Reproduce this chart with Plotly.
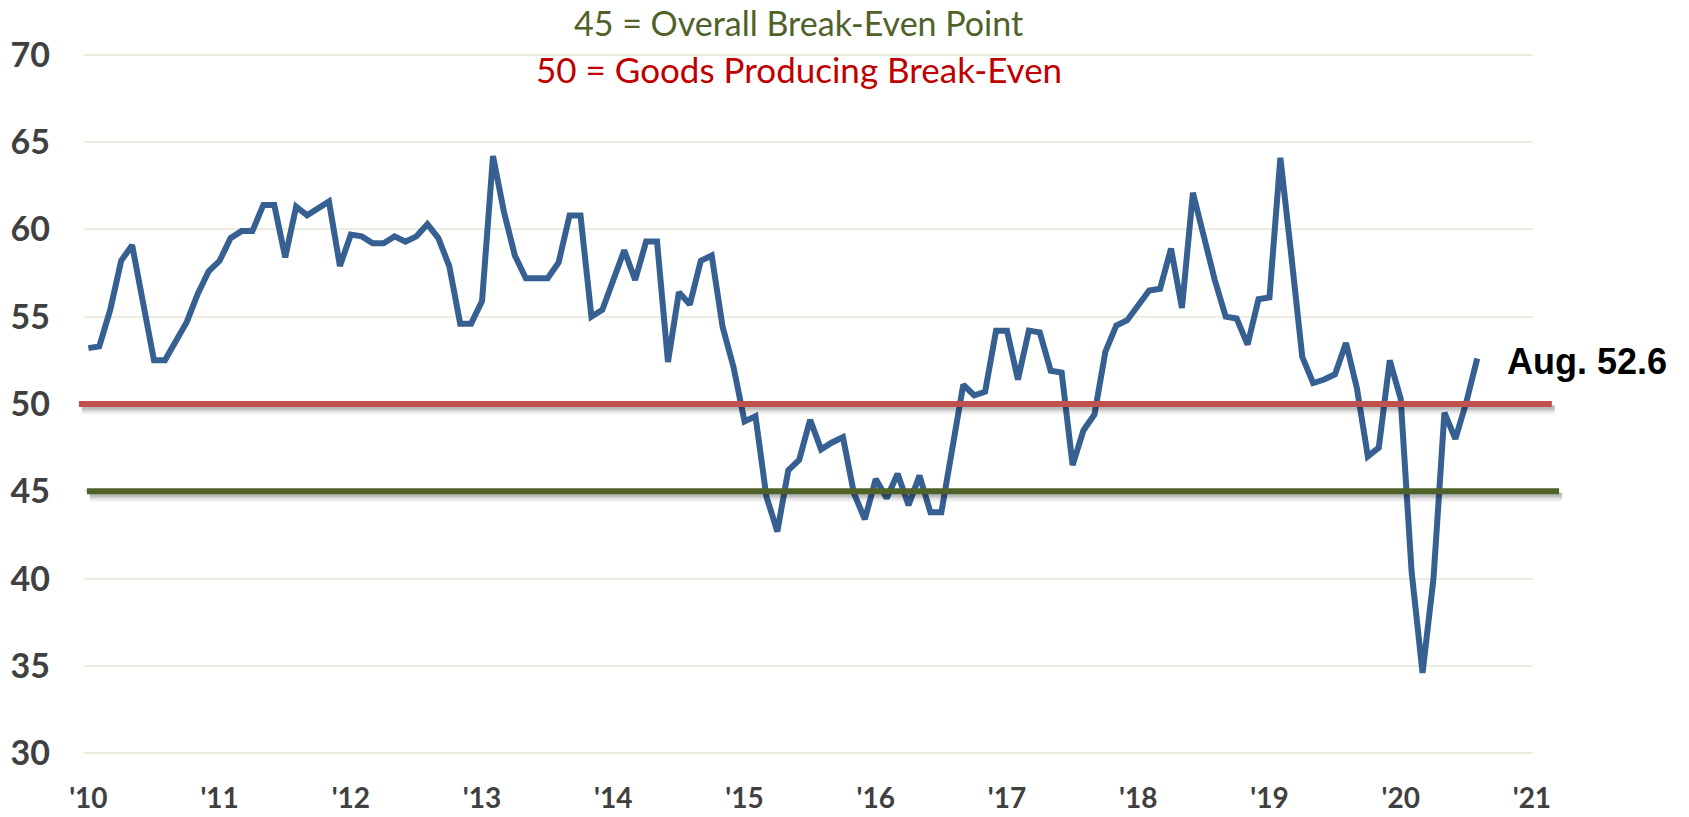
import plotly.graph_objects as go

# ---- data ----
year_labels = ["'10", "'11", "'12", "'13", "'14", "'15", "'16", "'17", "'18", "'19", "'20", "'21"]
index_values = [
    53.2, 53.3, 55.4, 58.2, 59.1, 55.7, 52.5, 52.5, 53.6, 54.7, 56.3, 57.6,   # 2010
    58.2, 59.5, 59.9, 59.9, 61.4, 61.4, 58.4, 61.3, 60.8, 61.2, 61.6, 57.9,   # 2011
    59.7, 59.6, 59.2, 59.2, 59.6, 59.3, 59.6, 60.3, 59.5, 57.9, 54.6, 54.6,   # 2012
    55.9, 64.2, 61.0, 58.5, 57.2, 57.2, 57.2, 58.1, 60.8, 60.8, 55.0, 55.4,   # 2013
    57.1, 58.8, 57.1, 59.3, 59.3, 52.4, 56.4, 55.7, 58.2, 58.5, 54.4, 52.1,   # 2014
    49.0, 49.3, 44.7, 42.7, 46.2, 46.8, 49.1, 47.4, 47.8, 48.1, 44.9, 43.4,   # 2015
    45.7, 44.6, 46.0, 44.2, 45.9, 43.8, 43.8, 47.3, 51.1, 50.5, 50.7, 54.2,   # 2016
    54.2, 51.4, 54.2, 54.1, 51.9, 51.8, 46.5, 48.5, 49.4, 53.0, 54.5, 54.8,   # 2017
    55.6, 56.5, 56.6, 58.9, 55.5, 62.1, 59.6, 57.1, 55.0, 54.9, 53.4, 56.0,   # 2018
    56.1, 64.1, 58.5, 52.7, 51.2, 51.4, 51.7, 53.5, 50.9, 47.0, 47.5, 52.5,   # 2019
    50.3, 40.4, 34.6, 40.0, 49.5, 48.0, 50.1, 52.6,                           # 2020
]
month_index = list(range(len(index_values)))
year_ticks = [12 * i for i in range(len(year_labels))]
y_ticks = [30, 35, 40, 45, 50, 55, 60, 65, 70]

overall_break_even = 45
goods_break_even = 50
last_label = "Aug."

BLUE = "#376092"
RED_LINE = "#C0504D"
GREEN_LINE = "#4F6228"
GRID = "#EEECE1"
TICK = "#404040"

fig = go.Figure()
fig.add_trace(go.Scatter(
    x=month_index, y=index_values, mode="lines",
    line=dict(color=BLUE, width=6), hoverinfo="skip", showlegend=False,
))

shapes = []
# reference lines with soft shadow
for val, color, x0, x1 in [(goods_break_even, RED_LINE, -0.0035, 1.013),
                           (overall_break_even, GREEN_LINE, 0.002, 1.018)]:
    for off, w, a in [(0.32, 9, 0.07), (0.26, 6, 0.10), (0.2, 4, 0.12)]:
        shapes.append(dict(type="line", xref="paper", yref="y", x0=x0 + 0.002, x1=x1 + 0.002,
                           y0=val - off, y1=val - off,
                           line=dict(color=f"rgba(0,0,0,{a})", width=w), layer="above"))
    shapes.append(dict(type="line", xref="paper", yref="y", x0=x0, x1=x1, y0=val, y1=val,
                       line=dict(color=color, width=6), layer="above"))

annotations = [
    dict(text=f"{overall_break_even} = Overall Break-Even Point", xref="paper", yref="paper",
         x=0.4934, y=1.043, xanchor="center", yanchor="middle", showarrow=False,
         font=dict(family="Lato", size=34, color="#4F6228")),
    dict(text=f"{goods_break_even} = Goods Producing Break-Even", xref="paper", yref="paper",
         x=0.4934, y=0.977, xanchor="center", yanchor="middle", showarrow=False,
         font=dict(family="Lato", size=35, color="#C00000")),
    dict(text=f"{last_label} {index_values[-1]}", xref="x", yref="y",
         x=month_index[-1], y=index_values[-1], xanchor="left", yanchor="middle",
         xshift=28, yshift=-3, showarrow=False,
         font=dict(family="Liberation Sans", size=36, color="#000000", weight="bold")),
]

fig.update_layout(
    width=1689, height=817,
    margin=dict(l=84, r=156, t=53, b=62),
    paper_bgcolor="white", plot_bgcolor="white",
    showlegend=False,
    shapes=shapes, annotations=annotations,
    xaxis=dict(range=[-0.4, 132.1], tickvals=year_ticks, ticktext=year_labels,
               showgrid=False, zeroline=False, showline=False, ticks="",
               tickfont=dict(family="Lato", size=28, color=TICK, weight="bold"),
               ticklabelstandoff=24, automargin=False),
    yaxis=dict(range=[29.9, 70.1], tickvals=y_ticks, showgrid=True, gridcolor=GRID, gridwidth=1.5,
               zeroline=False, showline=False, ticks="",
               tickfont=dict(family="Lato", size=34, color=TICK, weight="bold"),
               ticklabelstandoff=33, automargin=False),
)

fig.write_html(
    "out.html",
    config={"displayModeBar": False},
    post_script="document.body.style.margin='0';document.body.style.padding='0';"
                "document.body.style.overflow='hidden';",
)
